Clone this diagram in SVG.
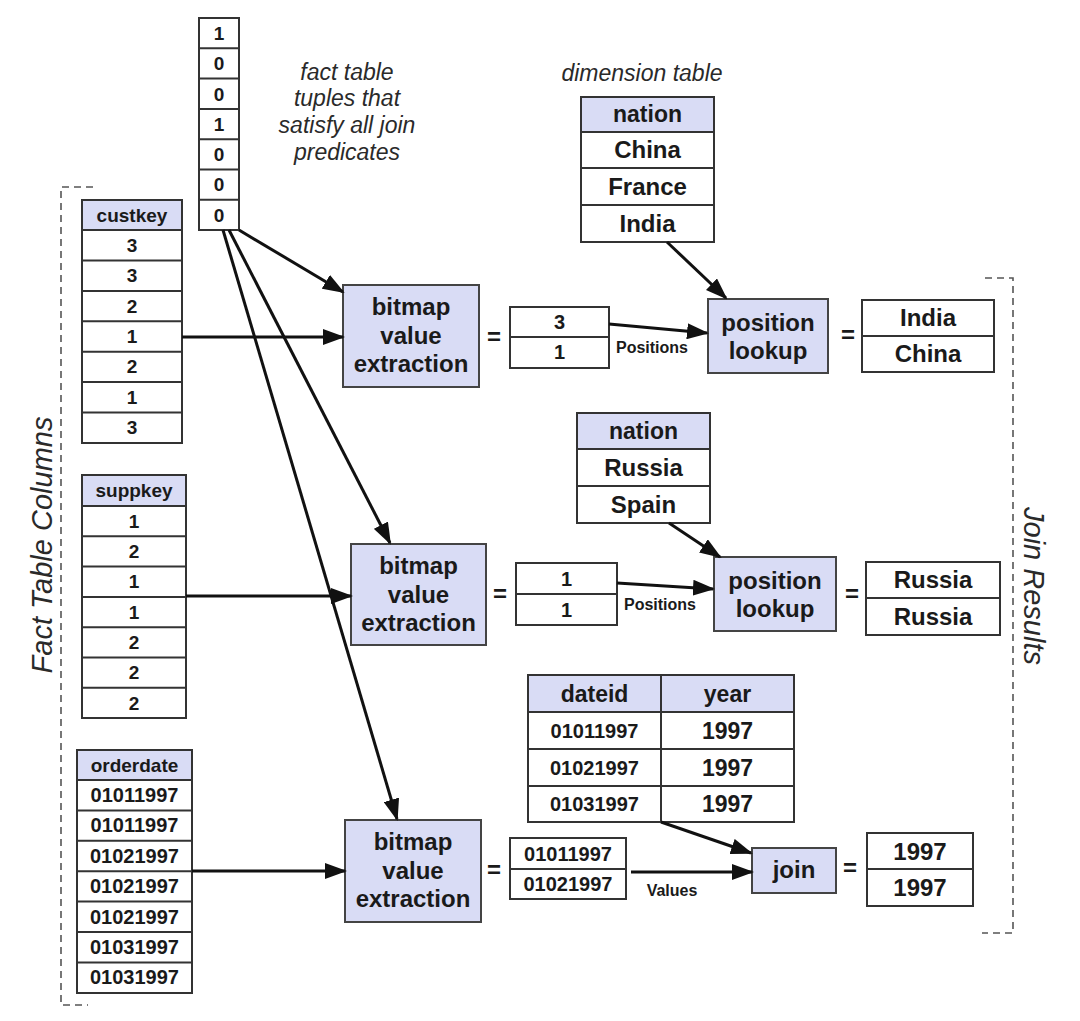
<svg xmlns="http://www.w3.org/2000/svg" width="1080" height="1021" viewBox="0 0 1080 1021">
<defs>
<style>
.cell{fill:#ffffff;stroke:#333;stroke-width:2}
.hdr{fill:#d9dcf5;stroke:#333;stroke-width:2}
.box{fill:#d9dcf5;stroke:#444;stroke-width:2}
.ln{stroke:#333;stroke-width:2;fill:none}
.t{font-family:"Liberation Sans",Arial,sans-serif;font-weight:bold;fill:#1a1a1a;text-anchor:middle}
.s19{font-size:19px}.s20{font-size:20px}.s23{font-size:23px}.s24{font-size:24px}.s16{font-size:16px}
.it{font-family:"Liberation Sans",Arial,sans-serif;font-style:italic;fill:#2a2a2a;text-anchor:middle}
.conn{stroke:#111;stroke-width:3;fill:none;marker-end:url(#ah)}
.dash{stroke:#555;stroke-width:1.6;stroke-dasharray:7 5;fill:none}
</style>
<marker id="ah" markerWidth="22" markerHeight="16" refX="20" refY="8" orient="auto" markerUnits="userSpaceOnUse">
<path d="M0,0 L22,8 L0,16 z" fill="#111"/>
</marker>
</defs>
<rect width="1080" height="1021" fill="#ffffff"/>

<!-- brackets and side labels -->
<g id="fact-bracket">
<path class="dash" d="M93,187 H61 V1005 H88"/>
<text class="it" style="font-size:29px" transform="translate(52,545) rotate(-90)">Fact Table Columns</text>
</g>
<g id="join-bracket">
<path class="dash" d="M985,278 H1013 V933 H982"/>
<text class="it" style="font-size:29px" transform="translate(1024,586) rotate(90)">Join Results</text>
</g>

<g id="fact-label">
<text class="it s23" x="347" y="80">fact table</text>
<text class="it s23" x="347" y="106">tuples that</text>
<text class="it s23" x="347" y="133">satisfy all join</text>
<text class="it s23" x="347" y="160">predicates</text>
</g>
<g id="dim-label">
<text class="it s23" x="642" y="81">dimension table</text>
</g>

<!-- bitmap -->
<g id="bitmap">
<rect class="cell" x="199" y="18" width="40" height="212"/>
<path class="ln" d="M199,48.3H239M199,78.6H239M199,108.9H239M199,139.2H239M199,169.5H239M199,199.8H239"/>
<g class="t s19">
<text x="219" y="40">1</text><text x="219" y="70">0</text><text x="219" y="101">0</text><text x="219" y="131">1</text><text x="219" y="161">0</text><text x="219" y="191">0</text><text x="219" y="222">0</text>
</g>
</g>

<!-- custkey -->
<g id="custkey">
<rect class="hdr" x="82" y="200" width="100" height="30"/>
<rect class="cell" x="82" y="230" width="100" height="213"/>
<path class="ln" d="M82,260.4H182M82,290.9H182M82,321.3H182M82,351.7H182M82,382.1H182M82,412.6H182"/>
<g class="t s19">
<text x="132" y="222">custkey</text>
<text x="132" y="252">3</text><text x="132" y="282">3</text><text x="132" y="313">2</text><text x="132" y="343">1</text><text x="132" y="373">2</text><text x="132" y="404">1</text><text x="132" y="434">3</text>
</g>
</g>

<!-- suppkey -->
<g id="suppkey">
<rect class="hdr" x="82" y="475" width="104" height="31"/>
<rect class="cell" x="82" y="506" width="104" height="212"/>
<path class="ln" d="M82,536.3H186M82,566.6H186M82,596.9H186M82,627.2H186M82,657.5H186M82,687.8H186"/>
<g class="t s19">
<text x="134" y="497">suppkey</text>
<text x="134" y="528">1</text><text x="134" y="558">2</text><text x="134" y="588">1</text><text x="134" y="619">1</text><text x="134" y="649">2</text><text x="134" y="679">2</text><text x="134" y="710">2</text>
</g>
</g>

<!-- orderdate -->
<g id="orderdate">
<rect class="hdr" x="77" y="750" width="115" height="30"/>
<rect class="cell" x="77" y="780" width="115" height="213"/>
<path class="ln" d="M77,810.4H192M77,840.8H192M77,871.2H192M77,901.6H192M77,932H192M77,962.4H192"/>
<g class="t s20">
<text x="134.5" y="772" style="font-size:19px">orderdate</text>
<text x="134.5" y="802">01011997</text><text x="134.5" y="832">01011997</text><text x="134.5" y="863">01021997</text><text x="134.5" y="893">01021997</text><text x="134.5" y="924">01021997</text><text x="134.5" y="954">01031997</text><text x="134.5" y="984">01031997</text>
</g>
</g>

<!-- bitmap value extraction boxes -->
<g id="bve1">
<rect class="box" x="343" y="285" width="136" height="102"/>
<g class="t s24"><text x="411" y="315">bitmap</text><text x="411" y="344">value</text><text x="411" y="372">extraction</text></g>
</g>
<g id="bve2">
<rect class="box" x="351" y="544" width="135" height="101"/>
<g class="t s24"><text x="418.5" y="574">bitmap</text><text x="418.5" y="603">value</text><text x="418.5" y="631">extraction</text></g>
</g>
<g id="bve3">
<rect class="box" x="345" y="820" width="136" height="102"/>
<g class="t s24"><text x="413" y="850">bitmap</text><text x="413" y="879">value</text><text x="413" y="907">extraction</text></g>
</g>

<!-- equals signs -->
<g id="equals" class="t s24">
<text x="494" y="345">=</text>
<text x="500" y="602">=</text>
<text x="494" y="878">=</text>
<text x="848" y="343">=</text>
<text x="852" y="602">=</text>
<text x="850" y="876">=</text>
</g>

<!-- positions 1 -->
<g id="positions1">
<rect class="cell" x="510" y="307" width="99" height="61"/>
<path class="ln" d="M510,337H609"/>
<g class="t s20"><text x="559.5" y="329">3</text><text x="559.5" y="359">1</text></g>
</g>
<g id="nation1">
<rect class="hdr" x="581" y="97" width="133" height="35"/>
<rect class="cell" x="581" y="132" width="133" height="110"/>
<path class="ln" d="M581,168H714M581,205H714"/>
<g class="t s24">
<text x="647.5" y="122" style="font-size:23px">nation</text>
<text x="647.5" y="158">China</text><text x="647.5" y="195">France</text><text x="647.5" y="232">India</text>
</g>
</g>
<g id="lookup1">
<rect class="box" x="708" y="299" width="120" height="74"/>
<g class="t s24"><text x="768" y="331">position</text><text x="768" y="359">lookup</text></g>
</g>
<g id="result1">
<rect class="cell" x="862" y="300" width="132" height="72"/>
<path class="ln" d="M862,336H994"/>
<g class="t s24"><text x="928" y="326">India</text><text x="928" y="362">China</text></g>
</g>

<!-- row 2 -->
<g id="nation2">
<rect class="hdr" x="577" y="413" width="133" height="36"/>
<rect class="cell" x="577" y="449" width="133" height="74"/>
<path class="ln" d="M577,486H710"/>
<g class="t s24">
<text x="643.5" y="439" style="font-size:23px">nation</text>
<text x="643.5" y="476">Russia</text><text x="643.5" y="513">Spain</text>
</g>
</g>
<g id="positions2">
<rect class="cell" x="516" y="563" width="101" height="62"/>
<path class="ln" d="M516,594H617"/>
<g class="t s20"><text x="566.5" y="586">1</text><text x="566.5" y="617">1</text></g>
</g>
<g id="lookup2">
<rect class="box" x="714" y="557" width="122" height="74"/>
<g class="t s24"><text x="775" y="589">position</text><text x="775" y="617">lookup</text></g>
</g>
<g id="result2">
<rect class="cell" x="866" y="562" width="134" height="73"/>
<path class="ln" d="M866,598H1000"/>
<g class="t s24"><text x="933" y="588">Russia</text><text x="933" y="625">Russia</text></g>
</g>

<!-- row 3 -->
<g id="datetable">
<rect class="hdr" x="528" y="675" width="266" height="37"/>
<rect class="cell" x="528" y="712" width="266" height="110"/>
<path class="ln" d="M528,749H794M528,786H794M661,675V822"/>
<g class="t s23">
<text x="594.5" y="702">dateid</text><text x="727.5" y="702">year</text>
<text x="594.5" y="738" style="font-size:20px">01011997</text><text x="727.5" y="739">1997</text>
<text x="594.5" y="775" style="font-size:20px">01021997</text><text x="727.5" y="776">1997</text>
<text x="594.5" y="811" style="font-size:20px">01031997</text><text x="727.5" y="812">1997</text>
</g>
</g>
<g id="values">
<rect class="cell" x="510" y="838" width="116" height="61"/>
<path class="ln" d="M510,869H626"/>
<g class="t s20"><text x="568" y="861">01011997</text><text x="568" y="891">01021997</text></g>
</g>
<g id="join">
<rect class="box" x="752" y="848" width="84" height="45"/>
<text class="t s24" x="794" y="878">join</text>
</g>
<g id="result3">
<rect class="cell" x="867" y="833" width="106" height="73"/>
<path class="ln" d="M867,869H973"/>
<g class="t s24"><text x="920" y="860">1997</text><text x="920" y="896">1997</text></g>
</g>

<!-- connectors -->
<g id="connectors">
<path class="conn" d="M239,230 L343,292"/>
<path class="conn" d="M229,230 L390,543"/>
<path class="conn" d="M223,230 L397,819"/>
<path class="conn" d="M182,337 H343"/>
<path class="conn" d="M186,596 H351"/>
<path class="conn" d="M192,871 H345"/>
<path class="conn" d="M609,324 L707,333"/>
<path class="conn" d="M667,242 L726,298"/>
<path class="conn" d="M617,583 L713,589"/>
<path class="conn" d="M669,523 L720,557"/>
<path class="conn" d="M631,872 H752"/>
<path class="conn" d="M661,822 L751,853"/>
<g class="t s16">
<text x="652" y="353">Positions</text>
<text x="660" y="610">Positions</text>
<text x="672" y="896">Values</text>
</g>
</g>
</svg>
